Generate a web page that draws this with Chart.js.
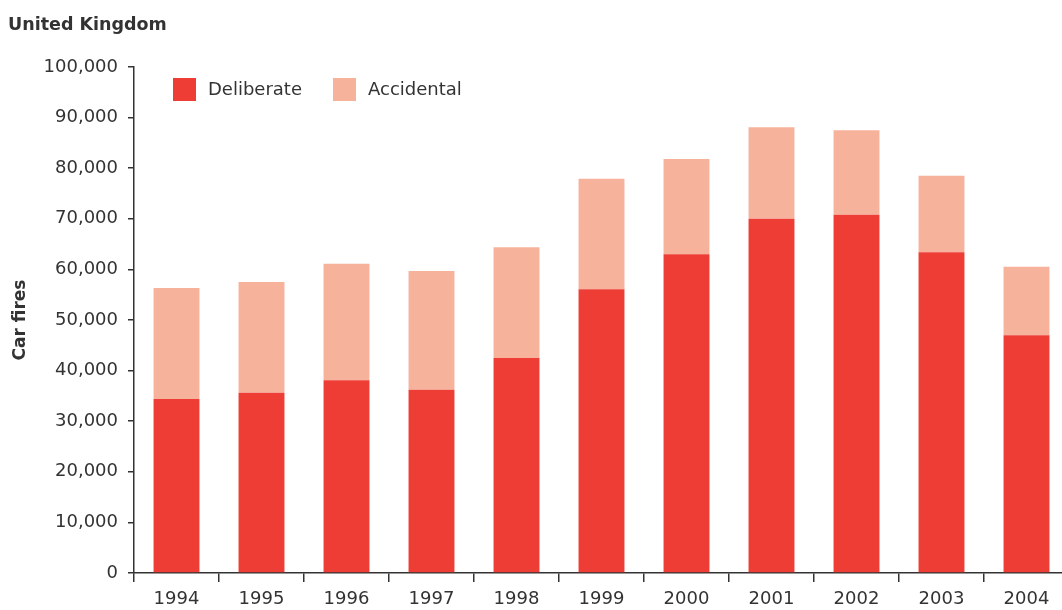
<!DOCTYPE html>
<html>
<head>
<meta charset="utf-8">
<script src="https://cdn.jsdelivr.net/npm/chart.js@4"></script>
<style>
  html, body { margin: 0; padding: 0; background: #fff; overflow: hidden; }
  #wrap { position: relative; width: 1072px; height: 610px; }
</style>
</head>
<body>
<div id="wrap"><canvas id="chart"></canvas></div>
<script>
// Car fires in the UK, deliberate vs accidental
const years = ['1994', '1995', '1996', '1997', '1998', '1999', '2000', '2001', '2002', '2003', '2004'];
const deliberate = [34400, 35600, 38100, 36200, 42500, 56100, 63000, 70000, 70800, 63400, 47000];
const accidental = [21900, 21900, 23000, 23500, 21900, 21800, 18800, 18100, 16700, 15100, 13500];

const textColor = '#333333';
const axisColor = '#333333';

// title and legend drawn on the canvas at fixed spots
const overlay = {
  id: 'overlay',
  afterDraw(chart) {
    const ctx = chart.ctx;
    ctx.save();
    ctx.fillStyle = textColor;
    ctx.font = 'bold 17.5px "DejaVu Sans"';
    ctx.textBaseline = 'alphabetic';
    ctx.textAlign = 'left';
    ctx.fillText('United Kingdom', 8, 30);

    const xs = [173, 333];
    ctx.font = '18px "DejaVu Sans"';
    ctx.textBaseline = 'middle';
    chart.data.datasets.forEach((ds, i) => {
      ctx.fillStyle = ds.backgroundColor;
      ctx.fillRect(xs[i], 78, 23, 23);
      ctx.fillStyle = textColor;
      ctx.fillText(ds.label, xs[i] + 35, 90);
    });
    ctx.restore();
  }
};

new Chart(document.getElementById('chart'), {
  type: 'bar',
  data: {
    labels: years,
    datasets: [
      { label: 'Deliberate', data: deliberate, backgroundColor: '#ee3d34' },
      { label: 'Accidental', data: accidental, backgroundColor: '#f7b29b' }
    ]
  },
  options: {
    responsive: true,
    maintainAspectRatio: false,
    animation: false,
    layout: { padding: { top: 67, right: 3, left: 0, bottom: 0 } },
    categoryPercentage: 1,
    barPercentage: 0.54,
    plugins: {
      legend: { display: false },
      tooltip: { enabled: false }
    },
    scales: {
      x: {
        stacked: true,
        afterFit: (s) => { s.height = 37; },
        border: { color: axisColor, width: 1.5 },
        grid: {
          offset: true,
          drawOnChartArea: false,
          drawTicks: true,
          tickLength: 9,
          color: axisColor,
          lineWidth: 1.5
        },
        ticks: {
          color: textColor,
          padding: 7,
          maxRotation: 0,
          font: { family: 'DejaVu Sans', size: 18 }
        }
      },
      y: {
        stacked: true,
        min: 0,
        max: 100000,
        afterFit: (s) => { s.width = 134; },
        border: { color: axisColor, width: 1.5 },
        grid: {
          drawOnChartArea: false,
          drawTicks: true,
          tickLength: 6,
          color: axisColor,
          lineWidth: 1.5
        },
        ticks: {
          stepSize: 10000,
          color: textColor,
          padding: 10,
          font: { family: 'DejaVu Sans', size: 18 },
          callback: (v) => v.toLocaleString('en-US')
        },
        title: {
          display: true,
          text: 'Car fires',
          color: textColor,
          padding: { top: 10, bottom: 0 },
          font: { family: 'DejaVu Sans', size: 17, weight: 'bold' }
        }
      }
    }
  },
  plugins: [overlay]
});
</script>
</body>
</html>
